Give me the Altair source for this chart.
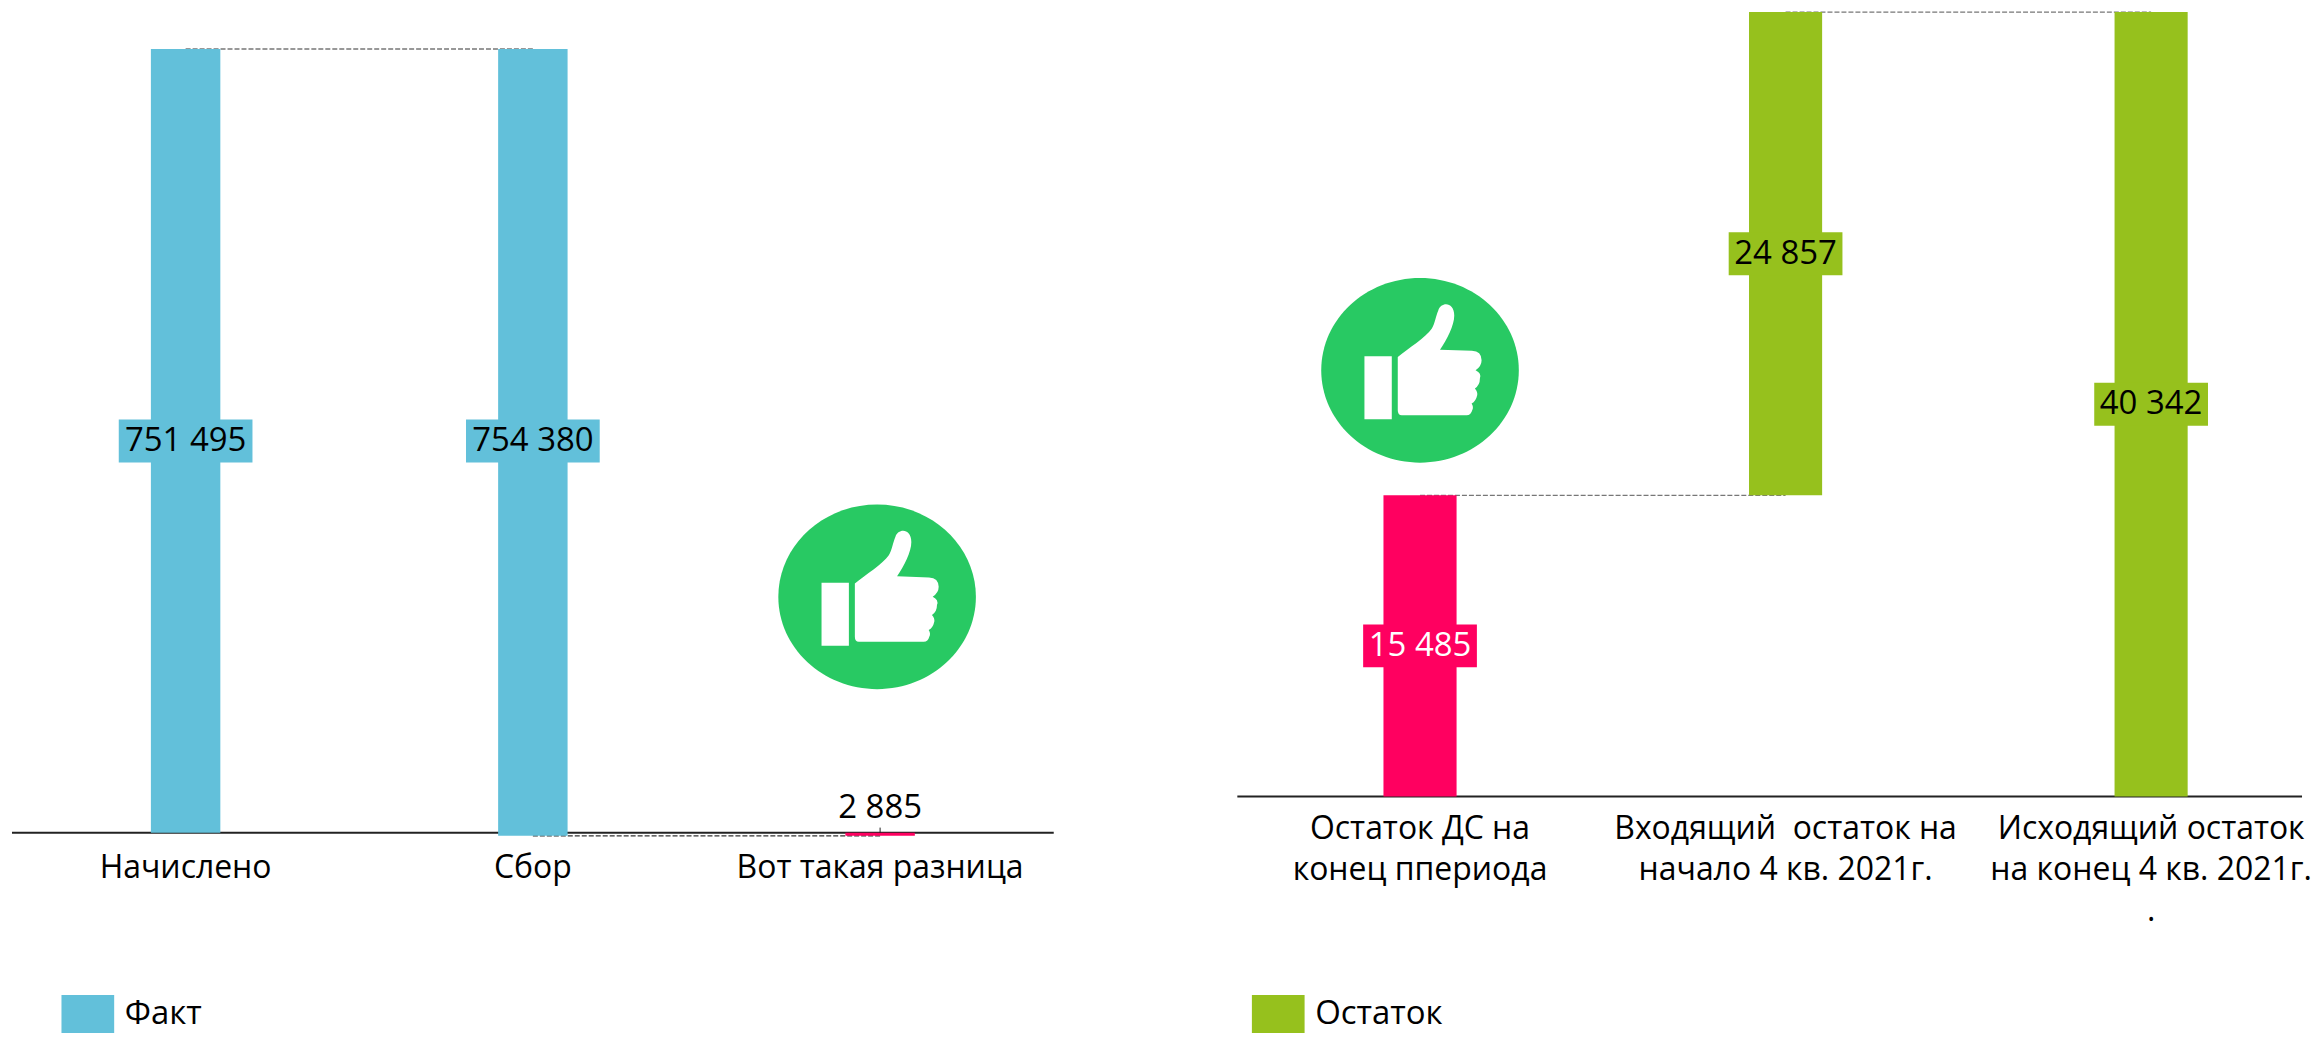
import altair as alt
import pandas as pd

FONT = "Open Sans"
FS = 33
AXIS_FS = 32

# left chart
l_cats = ["Начислено", "Сбор", "Вот такая разница"]
l_low = [0, -2885, -2885]
l_high = [751495, 751495, 0]
l_series = ["Факт", "Факт", "Разница"]
l_box_cats = ["Начислено", "Сбор"]
l_box_mid = [375747, 375747]
l_box_text = ["751 495", "754 380"]
l_small_cat = ["Вот такая разница"]
l_small_val = [5000]
l_small_text = ["2 885"]
l_conn_from = ["Начислено", "Сбор"]
l_conn_to = ["Сбор", "Вот такая разница"]
l_conn_val = [751495, -2885]

# right chart
r_cats = ["Остаток ДС на|конец ппериода", "Входящий \u00a0остаток на|начало 4 кв. 2021г.", "Исходящий остаток|на конец 4 кв. 2021г.|."]
r_low = [0, 15485, 0]
r_high = [15485, 40342, 40342]
r_series = ["Разница", "Остаток", "Остаток"]
r_box_mid = [7742, 27913, 20171]
r_box_text = ["15 485", "24 857", "40 342"]
r_box_text_color = ["white", "black", "black"]
r_conn_from = [r_cats[0], r_cats[1]]
r_conn_to = [r_cats[1], r_cats[2]]
r_conn_val = [15485, 40342]

BLUE, PINK, GREEN = "#62C0DA", "#FF0060", "#96C11D"
ICON_GREEN = "#28C963"
BADGE = "M-0.99,0A0.99,0.925 0 1,1 0.99,0A0.99,0.925 0 1,1 -0.99,0Z"
THUMB = ("M-0.557,-0.14H-0.283V0.49H-0.557Z "
         "M-0.223,-0.133C-0.12,-0.22 0.06,-0.33 0.117,-0.417 C0.15,-0.47 0.16,-0.55 0.183,-0.6 "
         "C0.21,-0.69 0.343,-0.69 0.343,-0.55 C0.343,-0.45 0.27,-0.31 0.2,-0.207 "
         "L0.52,-0.195 Q0.617,-0.19 0.617,-0.1 Q0.617,-0.04 0.557,0 Q0.62,0.03 0.6,0.083 "
         "Q0.6,0.15 0.55,0.183 Q0.58,0.22 0.573,0.25 Q0.56,0.31 0.517,0.333 "
         "Q0.54,0.37 0.523,0.4 Q0.51,0.45 0.467,0.45 L-0.183,0.45 Q-0.223,0.45 -0.223,0.4 Z")
SWATCH = "M-1.39,-1H1.39V1H-1.39Z"


def axis(pad):
    return alt.Axis(title=None, domain=False, ticks=False, grid=False, labelAngle=0,
                    labelFont=FONT, labelFontSize=AXIS_FS, labelColor="black", labelPadding=pad,
                    labelOverlap=False, labelBound=False, labelFlush=False, labelLineHeight=41,
                    labelLimit=600, labelExpr="split(datum.label, '|')")


def panel(cats, low, high, series, domain, colors, legend_values, ymin, ymax, w, h, po, align,
          pad, legend_x, legend_y, conn, boxes, box_w, icon_cat, icon_y, icon_dx, conn_color):
    bars = pd.DataFrame({"cat": cats, "low": low, "high": high, "series": series})
    xs = alt.Scale(domain=cats, paddingInner=0.8, paddingOuter=po, align=align)
    ys = alt.Scale(domain=[ymin, ymax], nice=False, zero=False)
    X = alt.X("cat:N", scale=xs, axis=axis(pad), sort=None)
    Y = alt.Y("y:Q", scale=ys, axis=None)
    cs = alt.Scale(domain=domain, range=colors)

    conn_layer = alt.Chart(pd.DataFrame(conn)).mark_rule(
        color=conn_color, strokeWidth=1.2, strokeDash=[5, 2]
    ).encode(x=X, x2="to:N", y=Y)
    base = alt.Chart(pd.DataFrame({"y": [0]})).mark_rule(color="#222222", strokeWidth=2).encode(
        y=Y, x=alt.value(0), x2=alt.value(w))
    bar_layer = alt.Chart(bars).mark_bar().encode(
        x=X, y=alt.Y("low:Q", scale=ys, axis=None), y2="high:Q",
        color=alt.Color("series:N", scale=cs, legend=alt.Legend(
            values=legend_values, title=None, orient="none", legendX=legend_x, legendY=legend_y,
            symbolType=SWATCH, symbolSize=1444, symbolStrokeWidth=0, symbolOpacity=1,
            labelFont=FONT, labelFontSize=FS, labelColor="black", labelOffset=18, padding=0,
            symbolOffset=0)))
    box_df = pd.DataFrame(boxes)
    box_bg = alt.Chart(box_df).mark_tick(size=box_w, thickness=43, opacity=1).encode(
        x=X, y=Y, color=alt.Color("series:N", scale=cs, legend=None))
    box_tx = alt.Chart(box_df).mark_text(font=FONT, fontSize=FS, baseline="middle").encode(
        x=X, y=Y, text="text:N", color=alt.Color("tc:N", scale=None))
    icon_df = pd.DataFrame({"cat": [icon_cat]})
    badge = alt.Chart(icon_df).mark_point(shape=BADGE, size=40000, filled=True, color=ICON_GREEN,
                                          opacity=1, strokeWidth=0, xOffset=icon_dx).encode(x=X, y=alt.value(icon_y))
    thumb = alt.Chart(icon_df).mark_point(shape=THUMB, size=40000, filled=True, color="white",
                                          opacity=1, strokeWidth=0, xOffset=icon_dx).encode(x=X, y=alt.value(icon_y))
    layers = [conn_layer, base, bar_layer, box_bg, box_tx, badge, thumb]
    return layers, X, ys


# left panel
lw, lh = 1044, 832
l_layers, lX, lys = panel(
    l_cats, l_low, l_high, l_series, ["Факт", "Разница"], [BLUE, PINK], ["Факт"],
    -6219, 789765, lw, lh, 0.4, 0.5, 13, 57, 988,
    {"cat": l_conn_from, "to": l_conn_to, "y": l_conn_val},
    {"cat": l_box_cats, "y": l_box_mid, "text": l_box_text, "series": ["Факт", "Факт"], "tc": ["black", "black"]},
    134, "Вот такая разница", 589, -3, "#333333")
small = pd.DataFrame({"cat": l_small_cat, "y": l_small_val, "text": l_small_text, "z": [0]})
leader = alt.Chart(small).mark_rule(color="#222222", strokeWidth=1).encode(
    x=lX, y=alt.Y("z:Q", scale=lys, axis=None), y2="y:Q")
small_text = alt.Chart(small).mark_text(font=FONT, fontSize=FS, baseline="alphabetic", dy=-10, color="black").encode(
    x=lX, y=alt.Y("y:Q", scale=lys, axis=None), text="text:N")
left = alt.layer(*l_layers, leader, small_text).properties(width=lw, height=lh)

# right panel
rw, rh = 1067, 792
r_layers, _, _ = panel(
    r_cats, r_low, r_high, r_series, ["Остаток", "Разница"], [GREEN, PINK], ["Остаток"],
    -154, 40497, rw, rh, 0.3563, 0.561, 14, 22, 988,
    {"cat": r_conn_from, "to": r_conn_to, "y": r_conn_val},
    {"cat": r_cats, "y": r_box_mid, "text": r_box_text, "series": r_series, "tc": r_box_text_color},
    114, r_cats[0], 362, 0, "#777777")
right = alt.layer(*r_layers).properties(width=rw, height=rh)

chart = alt.hconcat(left, right, spacing=182, padding={"left": 3, "top": 0, "right": 0, "bottom": 0}
                    ).resolve_scale(color="independent", x="independent", y="independent"
                    ).configure_view(stroke=None).properties(background="white")
chart.save("out.html", embed_options={"renderer": "svg", "actions": False})
